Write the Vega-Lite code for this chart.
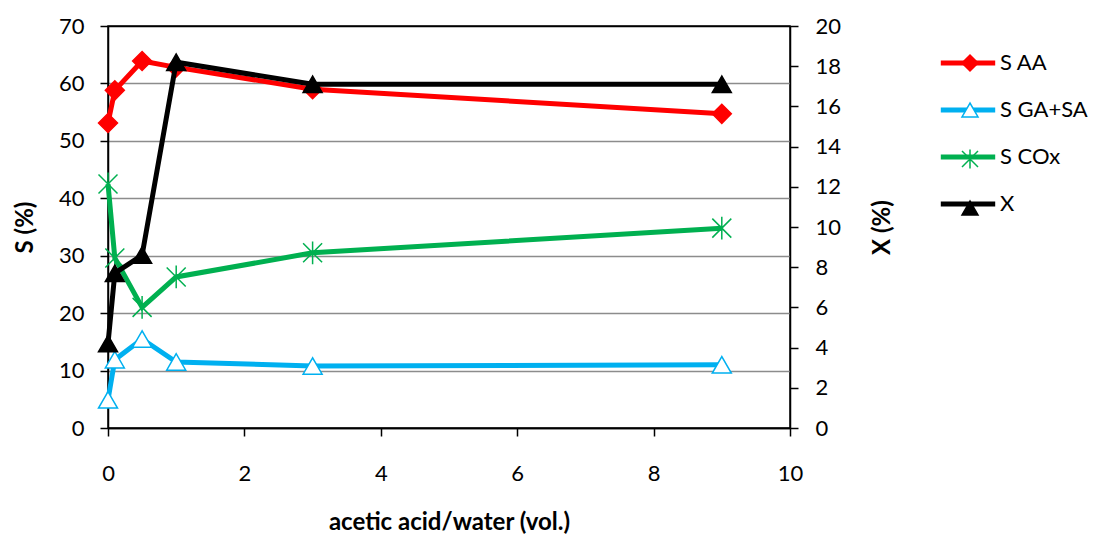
{
  "$schema": "https://vega.github.io/schema/vega-lite/v6.json",
  "width": 682,
  "height": 402,
  "autosize": {"type": "none"},
  "padding": {"left": 108, "top": 26, "right": 303, "bottom": 108},
  "background": "white",
  "config": {
    "font": "Lato",
    "view": {"stroke": "black", "strokeWidth": 1.5},
    "axis": {
      "labelFont": "Lato", "labelFontSize": 22, "labelColor": "black", "labelFlush": false,
      "titleFont": "Lato", "titleFontSize": 24, "titleFontWeight": "bold", "titleColor": "black",
      "domainColor": "black", "domainWidth": 1.5,
      "tickColor": "black", "tickWidth": 1.5, "tickSize": 8, "grid": false
    },
    "legend": {"labelFont": "Lato", "labelFontSize": 22, "labelColor": "black"}
  },
  "data": {
    "values": [
      {"ratio": 0, "series": "S AA", "value": 53.1},
      {"ratio": 0.1, "series": "S AA", "value": 58.8},
      {"ratio": 0.5, "series": "S AA", "value": 63.9},
      {"ratio": 1, "series": "S AA", "value": 62.8},
      {"ratio": 3, "series": "S AA", "value": 59.0},
      {"ratio": 9, "series": "S AA", "value": 54.7},
      {"ratio": 0, "series": "S GA+SA", "value": 4.9},
      {"ratio": 0.1, "series": "S GA+SA", "value": 11.9},
      {"ratio": 0.5, "series": "S GA+SA", "value": 15.5},
      {"ratio": 1, "series": "S GA+SA", "value": 11.5},
      {"ratio": 3, "series": "S GA+SA", "value": 10.8},
      {"ratio": 9, "series": "S GA+SA", "value": 11.0},
      {"ratio": 0, "series": "S COx", "value": 42.5},
      {"ratio": 0.1, "series": "S COx", "value": 29.6},
      {"ratio": 0.5, "series": "S COx", "value": 21.0},
      {"ratio": 1, "series": "S COx", "value": 26.3},
      {"ratio": 3, "series": "S COx", "value": 30.5},
      {"ratio": 9, "series": "S COx", "value": 34.8},
      {"ratio": 0, "series": "X", "value": 4.2},
      {"ratio": 0.1, "series": "X", "value": 7.7},
      {"ratio": 0.5, "series": "X", "value": 8.6},
      {"ratio": 1, "series": "X", "value": 18.2},
      {"ratio": 3, "series": "X", "value": 17.1},
      {"ratio": 9, "series": "X", "value": 17.1}
    ]
  },
  "layer": [
    {
      "transform": [{"filter": "datum.series !== 'X'"}],
      "encoding": {
        "x": {
          "field": "ratio", "type": "quantitative",
          "scale": {"domain": [0, 10]},
          "axis": {
            "values": [0, 2, 4, 6, 8, 10], "format": "d", "title": "acetic acid/water (vol.)",
            "labelPadding": 27, "titleY": 94, "titleBaseline": "middle"
          }
        },
        "y": {
          "field": "value", "type": "quantitative",
          "scale": {"domain": [0, 70]},
          "axis": {
            "values": [0, 10, 20, 30, 40, 50, 60, 70], "title": "S (%)",
            "labelPadding": 16, "grid": true,
            "gridColor": {"condition": {"test": "datum.value === 70 || datum.value === 0", "value": "black"}, "value": "#8c8c8c"},
            "gridWidth": 1.5,
            "titleX": -83, "titleY": 201, "titleBaseline": "middle", "titleAlign": "center", "titleAngle": 270
          }
        }
      },
      "layer": [
        {
          "mark": {"type": "line", "strokeWidth": 5},
          "encoding": {
            "color": {
              "field": "series", "type": "nominal",
              "scale": {"domain": ["S AA", "S GA+SA", "S COx", "X"], "range": ["#FF0000", "#00B0F0", "#00B050", "#000000"]},
              "legend": {"orient": "none", "legendX": 849, "legendY": 26, "title": null, "symbolType": "M-3.4,0L3.4,0", "symbolSize": 256, "symbolStrokeWidth": 5, "labelOffset": 21, "rowPadding": 25}
            }
          }
        },
        {
          "mark": {"type": "point", "opacity": 1, "size": 361, "strokeWidth": 1.5},
          "encoding": {
            "shape": {
              "field": "series", "type": "nominal",
              "scale": {"domain": ["S AA", "S GA+SA", "S COx", "X"], "range": ["diamond", "triangle-up", "M-1,-1L1,1M-1,1L1,-1M0,-1.2L0,1.2", "triangle-up"]},
              "legend": {
                "orient": "right", "offset": 39, "padding": 26, "title": null, "symbolSize": 256, "symbolStrokeWidth": 1.5,
                "labelExpr": "''", "labelOpacity": 0, "labelOffset": 21, "rowPadding": 25,
                "encode": {"symbols": {"update": {"fill": {"scale": "fill", "field": "value"}, "stroke": {"scale": "stroke", "field": "value"}, "opacity": {"value": 1}}}}
              }
            },
            "fill": {
              "field": "series", "type": "nominal",
              "scale": {"domain": ["S AA", "S GA+SA", "S COx", "X"], "range": ["#FF0000", "#FFFFFF", "#00B050", "#000000"]},
              "legend": null
            },
            "stroke": {
              "field": "series", "type": "nominal",
              "scale": {"domain": ["S AA", "S GA+SA", "S COx", "X"], "range": ["#FF0000", "#00B0F0", "#00B050", "#000000"]},
              "legend": null
            }
          }
        }
      ]
    },
    {
      "transform": [{"filter": "datum.series === 'X'"}],
      "encoding": {
        "x": {"field": "ratio", "type": "quantitative"},
        "y": {
          "field": "value", "type": "quantitative",
          "scale": {"domain": [0, 20]},
          "axis": {
            "orient": "right", "values": [0, 2, 4, 6, 8, 10, 12, 14, 16, 18, 20], "title": "X (%)",
            "labelPadding": 17, "titleX": 92, "titleY": 201, "titleBaseline": "middle", "titleAlign": "center", "titleAngle": 270
          }
        }
      },
      "layer": [
        {
          "mark": {"type": "line", "strokeWidth": 5},
          "encoding": {"color": {"field": "series", "type": "nominal"}}
        },
        {
          "mark": {"type": "point", "opacity": 1, "size": 361, "strokeWidth": 1.5},
          "encoding": {
            "shape": {"field": "series", "type": "nominal"},
            "fill": {"field": "series", "type": "nominal", "legend": null},
            "stroke": {"field": "series", "type": "nominal", "legend": null}
          }
        }
      ]
    }
  ],
  "resolve": {"scale": {"y": "independent"}}
}
